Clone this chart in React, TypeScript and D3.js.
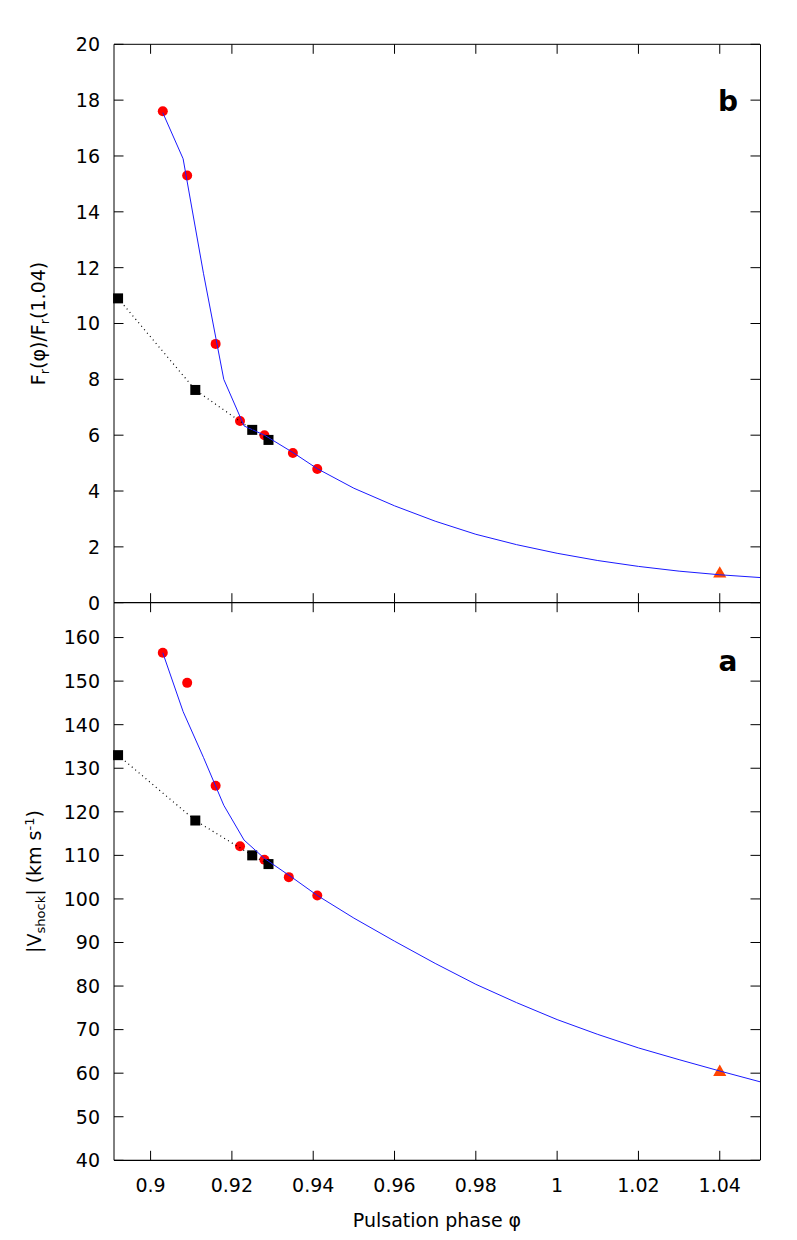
import React from "react";
import * as d3 from "d3";

// ---------- data ----------
const phaseTicks = [0.9, 0.92, 0.94, 0.96, 0.98, 1.0, 1.02, 1.04];
const phaseTickLabels = ["0.9", "0.92", "0.94", "0.96", "0.98", "1", "1.02", "1.04"];
const fluxTicks = [0, 2, 4, 6, 8, 10, 12, 14, 16, 18, 20];
const velTicks = [40, 50, 60, 70, 80, 90, 100, 110, 120, 130, 140, 150, 160];

// panel b: flux ratio
const fluxObsPhase = [0.903, 0.909, 0.916, 0.922, 0.928, 0.935, 0.941];
const fluxObs = [17.6, 15.3, 9.27, 6.51, 6.0, 5.36, 4.79];
const fluxSqPhase = [0.892, 0.911, 0.925, 0.929];
const fluxSq = [10.9, 7.62, 6.19, 5.83];
const fluxRefPhase = [1.04];
const fluxRef = [1.0];
const fluxModelPhase = [0.903, 0.908, 0.913, 0.918, 0.923, 0.928, 0.935, 0.941, 0.95, 0.96, 0.97, 0.98, 0.99, 1.0, 1.01, 1.02, 1.03, 1.04, 1.05];
const fluxModel = [17.55, 15.9, 11.8, 8.0, 6.33, 6.0, 5.38, 4.8, 4.1, 3.47, 2.92, 2.45, 2.08, 1.77, 1.51, 1.3, 1.13, 1.0, 0.9];

// panel a: shock velocity
const velObsPhase = [0.903, 0.909, 0.916, 0.922, 0.928, 0.934, 0.941];
const velObs = [156.5, 149.6, 126, 112.1, 109, 105, 100.8];
const velSqPhase = [0.892, 0.911, 0.925, 0.929];
const velSq = [133, 118, 110, 108];
const velRefPhase = [1.04];
const velRef = [60];
const velModelPhase = [0.903, 0.908, 0.913, 0.918, 0.923, 0.928, 0.935, 0.941, 0.95, 0.96, 0.97, 0.98, 0.99, 1.0, 1.01, 1.02, 1.03, 1.04, 1.05];
const velModel = [156.5, 143, 132.5, 121.5, 113.5, 109.3, 104.8, 100.8, 95.6, 90.3, 85.2, 80.4, 76.2, 72.3, 68.9, 65.8, 63.1, 60.5, 58.0];

// ---------- layout ----------
const W = 797, H = 1240;
const L = 114, R = 760;
const T1 = 44.3, B1 = 602.7, T2 = 602.7, B2 = 1160.3;
const FONT = "DejaVu Sans, Verdana, sans-serif";
const TICK = 9.5;

const x = d3.scaleLinear().domain([0.891, 1.0499]).range([L, R]);
const yF = d3.scaleLinear().domain([0, 20]).range([B1, T1]);
const yV = d3.scaleLinear().domain([40, 168]).range([B2, T2]);

function zip(a: number[], b: number[]) {
  return a.map((v, i) => [v, b[i]] as [number, number]);
}

function Panel({ y, ticks, top, bottom, obsP, obs, sqP, sq, refP, refV, modP, mod, letter }: any) {
  const line = d3.line<[number, number]>().x(d => x(d[0])).y(d => y(d[1]));
  const tri = d3.symbol().type(d3.symbolTriangle).size(75)();
  return (
    <g>
      {/* markers */}
      {zip(obsP, obs).map((d, i) => (
        <circle key={"c" + i} cx={x(d[0])} cy={y(d[1])} r={5} fill="#ff0000" />
      ))}
      {zip(sqP, sq).map((d, i) => (
        <rect key={"s" + i} x={x(d[0]) - 5} y={y(d[1]) - 5} width={10} height={10} fill="#000" />
      ))}
      {zip(refP, refV).map((d, i) => (
        <path key={"t" + i} d={tri as string} transform={`translate(${x(d[0])},${y(d[1]) - 1})`} fill="#ff4500" />
      ))}
      {/* lines */}
      <path d={line(zip(modP, mod)) as string} fill="none" stroke="#1a1aff" strokeWidth={1} />
      <path d={line(zip(sqP, sq)) as string} fill="none" stroke="#000" strokeWidth={1.2} strokeDasharray="1,3.5" />
      {/* y ticks */}
      {ticks.map((t: number) => (
        <g key={"yt" + t}>
          <line x1={L} x2={L + TICK} y1={y(t)} y2={y(t)} stroke="#000" />
          <line x1={R - TICK} x2={R} y1={y(t)} y2={y(t)} stroke="#000" />
          <text x={100} y={y(t)} dy="0.36em" textAnchor="end" fontFamily={FONT} fontSize={19}>{t}</text>
        </g>
      ))}
      {/* x ticks (inward at top and bottom) */}
      {phaseTicks.map((t, i) => (
        <g key={"xt" + i}>
          <line x1={x(t)} x2={x(t)} y1={bottom} y2={bottom - TICK} stroke="#000" />
          <line x1={x(t)} x2={x(t)} y1={top} y2={top + TICK} stroke="#000" />
        </g>
      ))}
      <text x={728} y={letter === "b" ? 111 : 671} textAnchor="middle" fontFamily={FONT} fontWeight="bold" fontSize={28}>{letter}</text>
    </g>
  );
}

export default function App() {
  return (
    <svg width={W} height={H} style={{ position: "absolute", left: 0, top: 0, background: "#fff" }}>
      <rect x={0} y={0} width={W} height={H} fill="#fff" />
      <Panel y={yF} ticks={fluxTicks} top={T1} bottom={B1} obsP={fluxObsPhase} obs={fluxObs} sqP={fluxSqPhase} sq={fluxSq}
        refP={fluxRefPhase} refV={fluxRef} modP={fluxModelPhase} mod={fluxModel} letter="b" />
      <Panel y={yV} ticks={velTicks} top={T2} bottom={B2} obsP={velObsPhase} obs={velObs} sqP={velSqPhase} sq={velSq}
        refP={velRefPhase} refV={velRef} modP={velModelPhase} mod={velModel} letter="a" />
      {/* frames */}
      <line x1={L} x2={L} y1={T1} y2={B2} stroke="#000" strokeWidth={1} />
      <line x1={L} x2={R} y1={T1} y2={T1} stroke="#000" strokeWidth={1} />
      <line x1={R + 0.5} x2={R + 0.5} y1={T1} y2={B2} stroke="#000" strokeWidth={1} />
      <line x1={L} x2={R} y1={B1} y2={B1} stroke="#000" strokeWidth={1.2} />
      <line x1={L} x2={R} y1={B2} y2={B2} stroke="#000" strokeWidth={1.2} />
      {/* x tick labels */}
      {phaseTicks.map((t, i) => (
        <text key={i} x={x(t)} y={1192} textAnchor="middle" fontFamily={FONT} fontSize={19}>{phaseTickLabels[i]}</text>
      ))}
      <text x={(L + R) / 2} y={1227} textAnchor="middle" fontFamily={FONT} fontSize={19}>Pulsation phase φ</text>
      {/* y axis titles */}
      <text transform={`translate(45,${(T1 + B1) / 2}) rotate(-90)`} textAnchor="middle" fontFamily={FONT} fontSize={19}>
        F<tspan fontSize={13} dy="4">r</tspan><tspan dy="-4">(φ)/F</tspan><tspan fontSize={13} dy="4">r</tspan><tspan dy="-4">(1.04)</tspan>
      </text>
      <text transform={`translate(41,${(T2 + B2) / 2}) rotate(-90)`} textAnchor="middle" fontFamily={FONT} fontSize={19}>
        |V<tspan fontSize={13} dy="4">shock</tspan><tspan dy="-4">| (km s</tspan><tspan fontSize={13} dy="-7">-1</tspan><tspan dy="7">)</tspan>
      </text>
    </svg>
  );
}
